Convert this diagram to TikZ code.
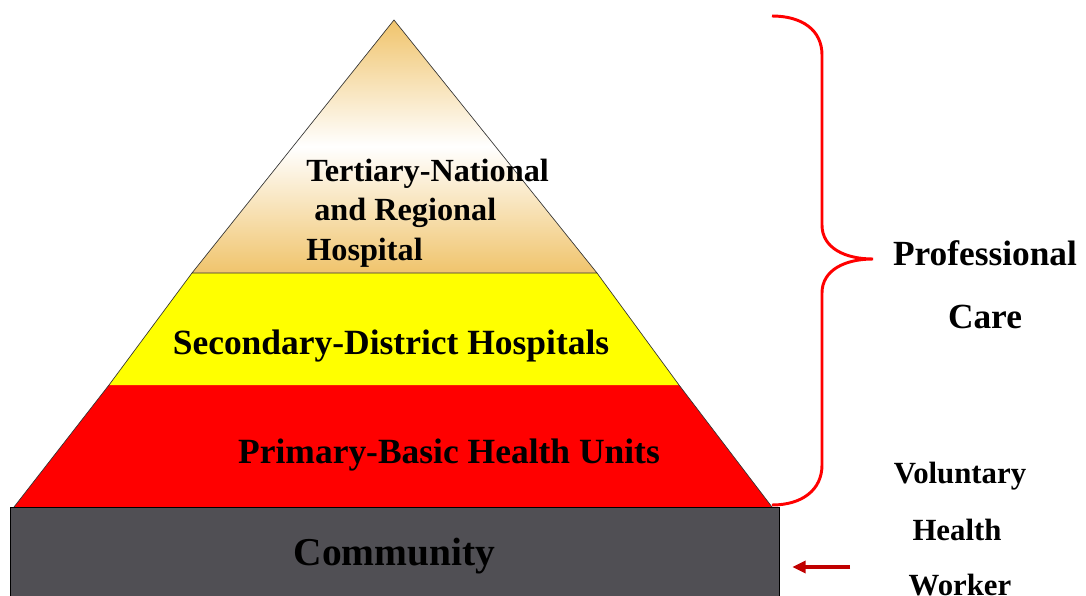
\documentclass[tikz,border=0pt]{standalone}
\usepackage{fontspec}
\setmainfont{Liberation Serif}
\usetikzlibrary{arrows.meta}
\definecolor{tiertan}{RGB}{240,196,108}
\definecolor{tieryellow}{RGB}{255,255,0}
\definecolor{tierred}{RGB}{255,0,0}
\definecolor{commgray}{RGB}{80,79,84}
\definecolor{bracered}{RGB}{255,0,0}
\definecolor{arrowred}{RGB}{192,0,0}
\begin{document}
\begin{tikzpicture}[x=0.75pt,y=-0.75pt,
  lbl/.style={font=\bfseries, inner sep=0pt, anchor=base},
  edge/.style={draw=black!80, line width=0.5pt},
  brace/.style={draw=bracered, line width=2.2pt},
  pointer/.style={draw=arrowred, line width=3pt, -{Triangle[length=10pt,width=9pt]}}]
\useasboundingbox (0,0) rectangle (1086,596);

% primary tier
\fill[tierred] (109,385) -- (679,385) -- (772,507) -- (14,507) -- cycle;
% secondary tier
\fill[tieryellow] (192,273) -- (597,273) -- (679,385) -- (109,385) -- cycle;
% tertiary tier with its graded fill
\shade[top color=tiertan, bottom color=tiertan, middle color=white]
  (394,20) -- (597,273) -- (192,273) -- cycle;
\draw[edge] (394,20) -- (597,273) -- (192,273) -- cycle;
\draw[edge] (597,273) -- (679,385) -- (772,507);
\draw[edge] (192,273) -- (109,385) -- (14,507);

% community base
\node (community) [fill=commgray, draw=black, line width=0.5pt,
  minimum width=576.75pt, minimum height=73.5pt, inner sep=0pt,
  font=\bfseries\fontsize{29.6}{32}\selectfont] at (394.5,556) {Community};

% tier labels (base anchor sits on the last line)
\node (tertiary) [lbl, anchor=base west, align=left,
  font=\bfseries\fontsize{24.2}{29.3}\selectfont] at (306,260)
  {Tertiary-National\\\hspace*{6pt}and Regional\\Hospital};
\node (secondary) [lbl, font=\bfseries\fontsize{26.6}{30}\selectfont]
  at (391,354) {Secondary-District Hospitals};
\node (primary) [lbl, font=\bfseries\fontsize{26.6}{30}\selectfont]
  at (449,463) {Primary-Basic Health Units};

% brace around the professional tiers
\draw[brace] (772,16) .. controls (802,16) and (822,30) .. (822,55)
  -- (822,225) .. controls (822,248) and (845,259) .. (873,259)
  .. controls (845,259) and (822,270) .. (822,293)
  -- (822,465) .. controls (822,490) and (802,505) .. (772,505);

\node (prof) [lbl, font=\bfseries\fontsize{26.5}{30}\selectfont] at (985,265) {Professional};
\node (care) [lbl, font=\bfseries\fontsize{26.5}{30}\selectfont] at (985,328) {Care};

% voluntary health worker
\node (vol) [lbl, font=\bfseries\fontsize{23.1}{28}\selectfont] at (960,483) {Voluntary};
\node (health) [lbl, font=\bfseries\fontsize{23.1}{28}\selectfont] at (957,540) {Health};
\node (worker) [lbl, font=\bfseries\fontsize{23.1}{28}\selectfont] at (960,595) {Worker};

\coordinate (vhwtail) at (850,567);
\draw[pointer] (vhwtail) -- ([xshift=9.75pt]community.east |- vhwtail);
\end{tikzpicture}
\end{document}
